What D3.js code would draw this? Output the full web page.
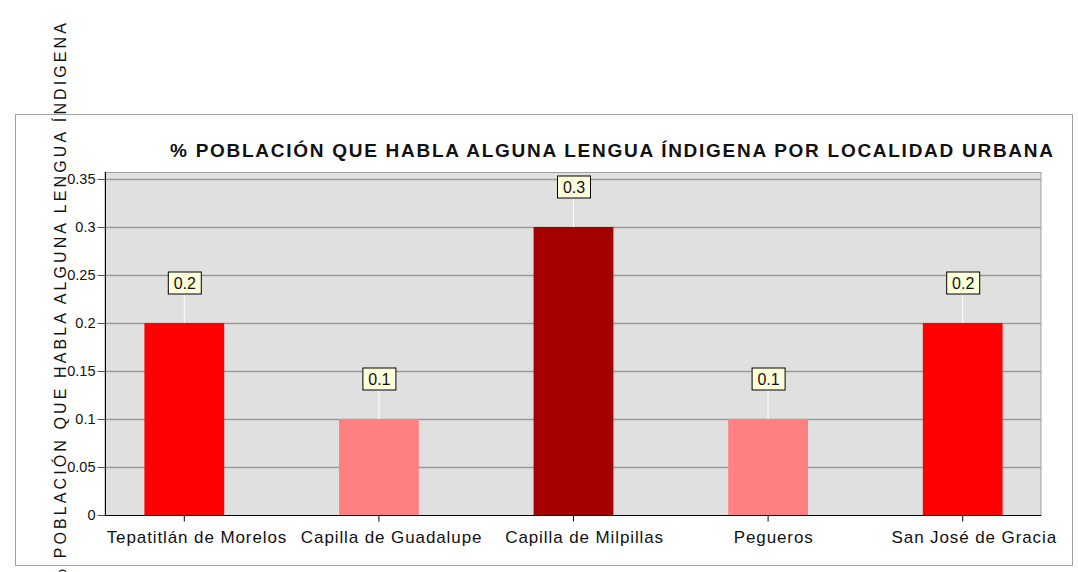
<!DOCTYPE html>
<html>
<head>
<meta charset="utf-8">
<script src="https://cdn.jsdelivr.net/npm/d3@7"></script>
<style>
  body { margin: 0; background: #fff; }
  svg { display: block; font-family: "Liberation Sans", Arial, sans-serif; }
</style>
</head>
<body>
<div id="chart"></div>
<script>
// Chart data
const categories = ["Tepatitlán de Morelos", "Capilla de Guadalupe", "Capilla de Milpillas", "Pegueros", "San José de Gracia"];
const values = [0.2, 0.1, 0.3, 0.1, 0.2];
const barColors = ["#ff0000", "#ff8080", "#a50000", "#ff8080", "#ff0000"];
const yTicks = [0, 0.05, 0.1, 0.15, 0.2, 0.25, 0.3, 0.35];
const titleText = "% POBLACIÓN QUE HABLA ALGUNA LENGUA ÍNDIGENA POR LOCALIDAD URBANA";
const yLabelText = "% POBLACIÓN QUE HABLA ALGUNA LENGUA ÍNDIGENA";

const width = 1078;
const height = 572;

const svg = d3.select('#chart').append('svg')
    .attr('width', width)
    .attr('height', height);

// outer chart frame
svg.append('rect')
    .attr('x', 15.5).attr('y', 114.5)
    .attr('width', 1057).attr('height', 451)
    .attr('fill', '#fff')
    .attr('stroke', '#a0a0a0');

// plot area
const plot = { left: 105, right: 1041, top: 172, bottom: 515 };

const y = d3.scaleLinear()
    .domain([0, 0.35])
    .range([plot.bottom, 179]);

const x = d3.scaleBand()
    .domain(categories)
    .range([87, 1060])
    .paddingInner(0.59)
    .paddingOuter(0.295);

svg.append('rect')
    .attr('x', plot.left).attr('y', plot.top + 0.5)
    .attr('width', plot.right - plot.left).attr('height', plot.bottom - plot.top)
    .attr('fill', '#e0e0e0')
    .attr('stroke', '#a0a0a0');

// gridlines
svg.append('g')
    .selectAll('line')
    .data(yTicks.slice(1))
    .enter().append('line')
    .attr('x1', plot.left).attr('x2', plot.right)
    .attr('y1', d => Math.round(y(d)) + 0.5)
    .attr('y2', d => Math.round(y(d)) + 0.5)
    .attr('stroke', '#9a9a9a')
    .attr('stroke-width', 1.5);

// bars
svg.append('g')
    .selectAll('rect')
    .data(values)
    .enter().append('rect')
    .attr('x', (d, i) => x(categories[i]))
    .attr('y', d => y(d))
    .attr('width', x.bandwidth())
    .attr('height', d => plot.bottom - y(d))
    .attr('fill', (d, i) => barColors[i]);

// y axis
const yAxis = svg.append('g')
    .attr('transform', `translate(${plot.left + 0.5},0)`)
    .call(d3.axisLeft(y).tickValues(yTicks).tickFormat(d3.format('')).tickSize(8).tickPadding(2));
yAxis.select('.domain').attr('d', `M0,${plot.top}V${plot.bottom}`).attr('stroke', '#000');
yAxis.selectAll('.tick line').attr('stroke', '#555');
yAxis.selectAll('text')
    .attr('font-size', 14.5)
    .attr('font-family', '"Liberation Sans", Arial, sans-serif')
    .attr('fill', '#111');

// x axis
const xAxis = svg.append('g')
    .attr('transform', `translate(0,${plot.bottom + 0.5})`)
    .call(d3.axisBottom(x).tickSize(6).tickPadding(9));
xAxis.select('.domain').attr('d', `M${plot.left},0H${plot.right}`).attr('stroke', '#000');
xAxis.selectAll('.tick line').attr('stroke', '#000');
xAxis.selectAll('text')
    .attr('font-size', 17)
    .attr('font-family', '"Liberation Sans", Arial, sans-serif')
    .attr('letter-spacing', '0.9px')
    .attr('fill', '#111')
    .attr('text-anchor', 'start')
    .each(function() {
        // the original labels sit a little right of the tick
        const len = this.getComputedTextLength();
        d3.select(this).attr('x', -0.43 * len);
    });

// data labels with leader lines
const labels = svg.append('g')
    .selectAll('g')
    .data(values)
    .enter().append('g')
    .attr('transform', (d, i) => `translate(${x(categories[i]) + x.bandwidth() / 2},${y(d)})`);

labels.append('line')
    .attr('x1', 0).attr('x2', 0)
    .attr('y1', 0).attr('y2', -29)
    .attr('stroke', '#fff');

labels.append('rect')
    .attr('x', -16).attr('y', -51)
    .attr('width', 33).attr('height', 22)
    .attr('fill', '#ffffdc')
    .attr('stroke', '#000');

labels.append('text')
    .attr('x', 0.5).attr('y', -34)
    .attr('text-anchor', 'middle')
    .attr('font-size', 16)
    .attr('fill', '#111')
    .text(d => d);

// title
svg.append('text')
    .attr('x', 170).attr('y', 157)
    .attr('font-size', 19)
    .attr('font-weight', 'bold')
    .attr('textLength', 883)
    .attr('lengthAdjust', 'spacing')
    .attr('fill', '#111')
    .text(titleText);

// rotated y label (the "%" runs off the bottom edge, as in the original)
svg.append('text')
    .attr('transform', 'translate(66,20) rotate(-90)')
    .attr('text-anchor', 'end')
    .attr('font-size', 16)
    .attr('letter-spacing', '3.1px')
    .attr('fill', '#111')
    .text(yLabelText);
</script>
</body>
</html>
